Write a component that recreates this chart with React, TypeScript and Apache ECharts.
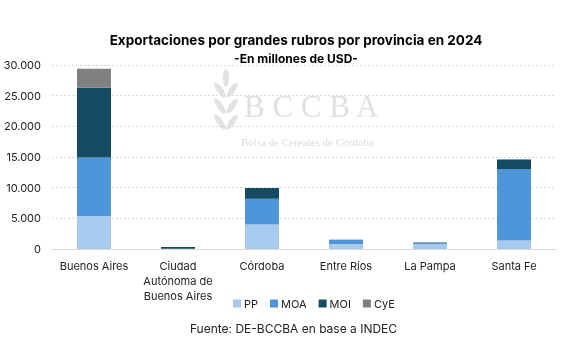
import React, { useEffect, useRef } from "react";
import * as echarts from "echarts";

const categories = ["Buenos Aires", "Ciudad\nAutónoma de\nBuenos Aires", "Córdoba", "Entre Ríos", "La Pampa", "Santa Fe"];
const seriesNames = ["PP", "MOA", "MOI", "CyE"];
const ppValues = [5400, 10, 4000, 800, 800, 1400];
const moaValues = [9500, 30, 4200, 650, 220, 11650];
const moiValues = [11400, 280, 1750, 50, 60, 1550];
const cyeValues = [3100, 20, 10, 5, 5, 50];
const colors = ["#a7caed", "#4e95d9", "#154b62", "#808080"];

const FONT = "Inter, 'Open Sans', sans-serif";

export default function App() {
  const ref = useRef<HTMLDivElement>(null);
  useEffect(() => {
    if (!ref.current) return;
    const chart = echarts.init(ref.current, undefined, { renderer: "svg" });
    const data = [ppValues, moaValues, moiValues, cyeValues];
    const leaf = (x: number, y: number, rot: number) => ({
      type: "ellipse",
      x,
      y,
      rotation: rot,
      shape: { cx: 0, cy: 0, rx: 3, ry: 9 },
      style: { fill: "#e2e2e2" },
      silent: true,
      z: -1,
    });
    chart.setOption({
      animation: false,
      textStyle: { fontFamily: FONT },
      title: [
        {
          text: "Exportaciones por grandes rubros por provincia en 2024",
          left: 291,
          textAlign: "center",
          top: 28,
          textStyle: { fontSize: 13.5, fontWeight: "bold", color: "#000", fontFamily: FONT },
        },
        {
          text: "-En millones de USD-",
          left: 291,
          textAlign: "center",
          top: 47,
          textStyle: { fontSize: 12, fontWeight: "bold", color: "#000", fontFamily: FONT },
        },
      ],
      graphic: [
        leaf(220, 90, 0.6),
        leaf(232, 90, -0.6),
        leaf(220, 106, 0.6),
        leaf(232, 106, -0.6),
        leaf(220, 122, 0.6),
        leaf(232, 122, -0.6),
        leaf(226, 78, 0),
        {
          type: "text",
          left: 244,
          top: 91,
          silent: true,
          z: -1,
          style: {
            text: "B C C B A",
            fontFamily: "'Liberation Serif', 'DejaVu Serif', serif",
            fontSize: 31,
            fill: "#e0e0e0",
          },
        },
        {
          type: "text",
          left: 241,
          top: 136,
          silent: true,
          z: -1,
          style: {
            text: "Bolsa de Cereales de Córdoba",
            fontFamily: "'Liberation Serif', 'DejaVu Serif', serif",
            fontSize: 11,
            fill: "#dadada",
          },
        },
        {
          type: "text",
          left: "center",
          top: 322,
          style: {
            text: "Fuente: DE-BCCBA en base a INDEC",
            fontFamily: FONT,
            fontSize: 12,
            fill: "#222",
          },
        },
      ],
      legend: {
        top: 293,
        left: 228,
        itemWidth: 8,
        itemHeight: 8,
        itemGap: 12,
        icon: "rect",
        textStyle: { fontSize: 11, color: "#222", fontFamily: FONT, padding: [0, 0, 0, -2] },
        data: seriesNames,
      },
      grid: { left: 52, right: 31, top: 65, bottom: 102, containLabel: false },
      xAxis: {
        type: "category",
        data: categories,
        axisLine: { lineStyle: { color: "#d9d9d9" } },
        axisTick: { show: false },
        axisLabel: { fontSize: 11, color: "#222", lineHeight: 15, margin: 9, interval: 0 },
      },
      yAxis: {
        type: "value",
        min: 0,
        max: 30000,
        interval: 5000,
        axisLine: { show: false },
        axisTick: { show: false },
        splitLine: { lineStyle: { color: "#d9d9d9", type: [2, 2] } },
        axisLabel: {
          fontSize: 11,
          color: "#222",
          margin: 11,
          formatter: (v: number) => (v === 0 ? "0" : v.toLocaleString("de-DE")),
        },
      },
      series: seriesNames.map((name, i) => ({
        name,
        type: "bar",
        stack: "total",
        barWidth: 34,
        data: data[i],
        itemStyle: { color: colors[i] },
      })),
    });
    return () => chart.dispose();
  }, []);
  return <div ref={ref} style={{ position: "fixed", left: 0, top: 0, width: 587, height: 351 }} />;
}
